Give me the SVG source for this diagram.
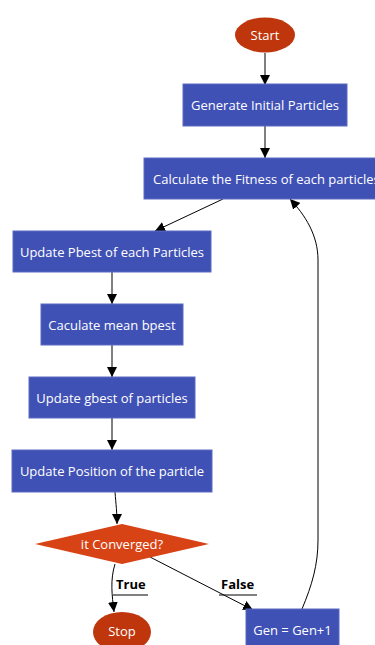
<svg xmlns="http://www.w3.org/2000/svg" width="375" height="645" viewBox="0 0 375 645">
<defs>
<marker id="arr" viewBox="0 0 10 10" refX="10" refY="5" markerWidth="10" markerHeight="10" markerUnits="userSpaceOnUse" orient="auto">
<path d="M0,0 L10,5 L0,10 z" fill="#000"/>
</marker>
</defs>
<style>
.box{fill:#3F51B5;stroke:#5C6BC0;stroke-width:1}
.term{fill:#BF360C}
.dec{fill:#D84315}
.t{font-family:"Open Sans","Liberation Sans",sans-serif;font-size:13px;fill:#fff;text-anchor:middle;dominant-baseline:central}
.lbl{font-family:"Open Sans","Liberation Sans",sans-serif;font-size:13px;font-weight:bold;fill:#000}
.e{fill:none;stroke:#000;stroke-width:1;marker-end:url(#arr)}
.u{stroke:#000;stroke-width:1}
</style>
<rect width="375" height="645" fill="#fff"/>
<g id="connectors">
<path class="e" d="M265,53 L265,85"/>
<path class="e" d="M265,126 L265,158"/>
<path class="e" d="M223,199 L155,231"/>
<path class="e" d="M112,272 L112,304"/>
<path class="e" d="M112,345 L112,377"/>
<path class="e" d="M112,418 L112,450"/>
<path class="e" d="M115,492 C116,505 117,512 117,524"/>
<path class="e" d="M115,564 C110,580 112,595 114,612"/>
<path class="e" d="M150,557 L253,610"/>
<path class="e" d="M302,609 C312,585 318,565 318,540 L318,260 C318,235 305,215 290,199"/>
<text class="lbl" x="116" y="589">True</text>
<line class="u" x1="113" y1="595" x2="148" y2="595"/>
<text class="lbl" x="221" y="589">False</text>
<line class="u" x1="219" y1="595" x2="257" y2="595"/>
</g>
<g id="start">
<ellipse class="term" cx="265" cy="35" rx="30" ry="17.5"/>
<text class="t" x="265" y="35">Start</text>
</g>
<g id="generate">
<rect class="box" x="183" y="84" width="164" height="42"/>
<text class="t" x="265" y="105">Generate Initial Particles</text>
</g>
<g id="fitness">
<rect class="box" x="144" y="158" width="245" height="41"/>
<text class="t" x="153" y="178.5" style="text-anchor:start">Calculate the Fitness of each particles</text>
</g>
<g id="pbest">
<rect class="box" x="13" y="231" width="198" height="41"/>
<text class="t" x="112" y="251.5">Update Pbest of each Particles</text>
</g>
<g id="mean">
<rect class="box" x="41" y="304" width="142" height="41"/>
<text class="t" x="112" y="324.5">Caculate mean bpest</text>
</g>
<g id="gbest">
<rect class="box" x="29" y="377" width="166" height="41"/>
<text class="t" x="112" y="397.5">Update gbest of particles</text>
</g>
<g id="position">
<rect class="box" x="12" y="450" width="200" height="42"/>
<text class="t" x="112" y="471">Update Position of the particle</text>
</g>
<g id="converged">
<polygon class="dec" points="122,524 209,544 122,564 35,544"/>
<text class="t" x="122" y="544">it Converged?</text>
</g>
<g id="stop">
<ellipse class="term" cx="122" cy="632" rx="29" ry="20"/>
<text class="t" x="122" y="631">Stop</text>
</g>
<g id="gen">
<rect class="box" x="246" y="609" width="93" height="42"/>
<text class="t" x="292.5" y="630">Gen = Gen+1</text>
</g>
</svg>
